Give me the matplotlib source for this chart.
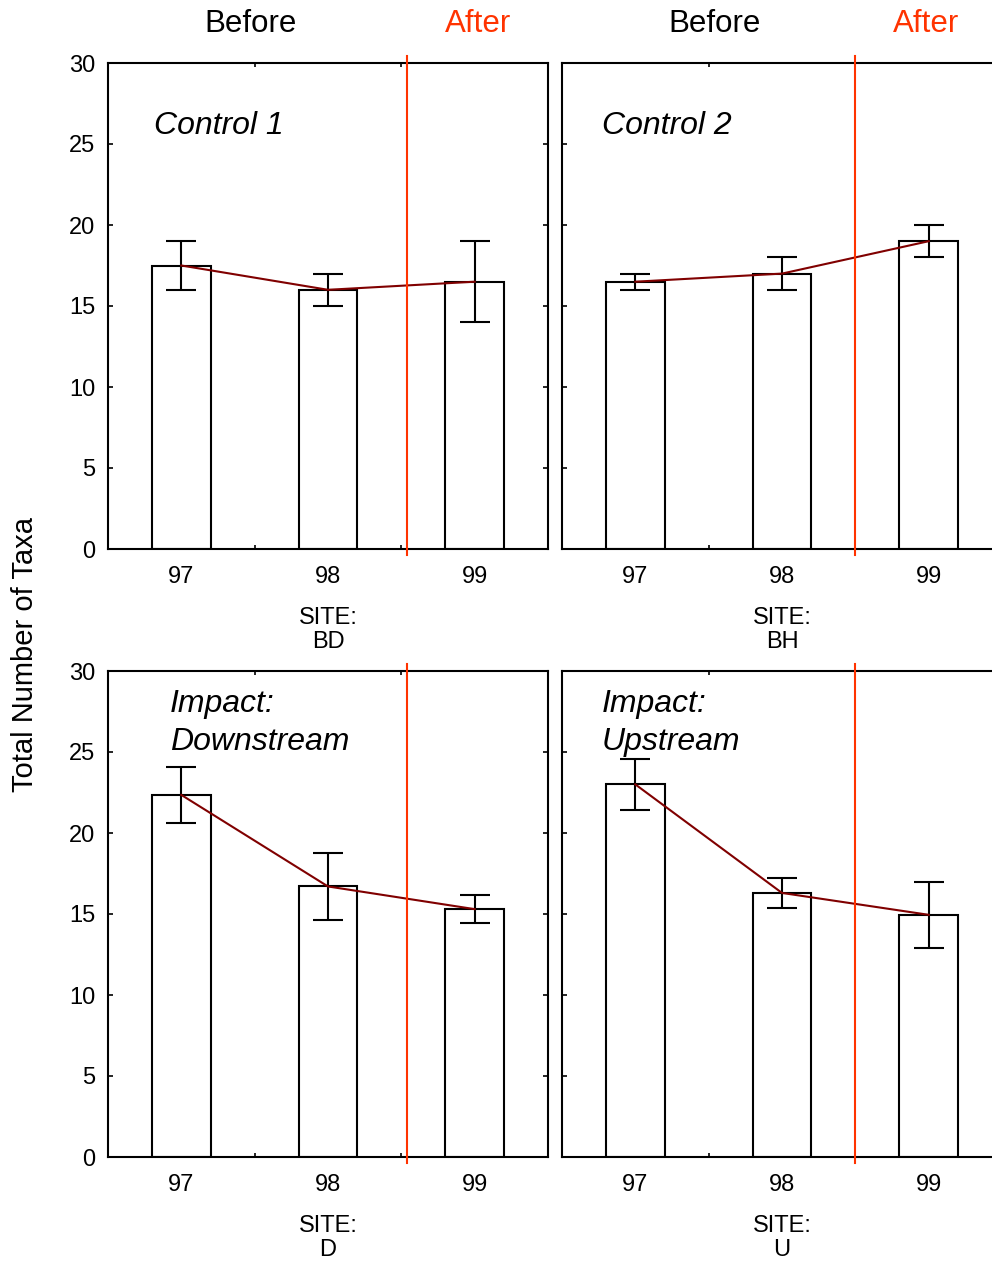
import matplotlib.pyplot as plt
from matplotlib.transforms import blended_transform_factory

plt.rcParams['font.family'] = ['Liberation Sans', 'DejaVu Sans']

years = ['97', '98', '99']
sites = ['BD', 'BH', 'D', 'U']
titles = ['Control 1', 'Control 2', 'Impact:\nDownstream', 'Impact:\nUpstream']

means_bd = [17.5, 16.0, 16.5]
err_bd = [1.5, 1.0, 2.5]
means_bh = [16.5, 17.0, 19.0]
err_bh = [0.5, 1.0, 1.0]
means_d = [22.35, 16.7, 15.3]
err_d = [1.72, 2.05, 0.85]
means_u = [23.0, 16.3, 14.95]
err_u = [1.55, 0.92, 2.05]

means = [means_bd, means_bh, means_d, means_u]
errs = [err_bd, err_bh, err_d, err_u]

W, H = 992, 1264
fig = plt.figure(figsize=(W / 100, H / 100), dpi=100)

red = '#ff3300'
dark = '#800000'

# panel boxes in pixels: left, top
boxes = [(108, 63), (562, 63), (108, 671), (562, 671)]
aw, ah = 440, 486
split_x = [1.54, 1.5, 1.54, 1.5]
title_pos = [(0.1045, 0.870), (0.091, 0.870), (0.141, 0.893), (0.091, 0.893)]

for i in range(4):
    l, t = boxes[i]
    ax = fig.add_axes([l / W, (H - t - ah) / H, aw / W, ah / H])
    x = list(range(len(years)))
    ax.bar(x, means[i], width=0.4, color='white', edgecolor='black', linewidth=1.5, zorder=2)
    ax.errorbar(x, means[i], yerr=errs[i], fmt='none', ecolor='black', elinewidth=1.5,
                capsize=10.5, capthick=1.5, zorder=3)
    ax.plot(x, means[i], color=dark, lw=1.5, zorder=4)
    ax.axvline(split_x[i], ymin=-0.012, ymax=1.014, color=red, lw=1.5, clip_on=False, zorder=5)

    ax.set_xlim(-0.5, 2.5)
    ax.set_ylim(0, 30)
    ax.set_yticks(range(0, 31, 5))
    ax.set_xticks(x)
    ax.set_xticklabels(years)
    ax.set_xticks([0.5, 1.5], minor=True)
    ax.tick_params(axis='x', which='major', length=0, pad=12, labelsize=17)
    ax.tick_params(axis='x', which='minor', direction='in', top=True, bottom=True, length=3, width=1.2)
    ax.tick_params(axis='y', direction='in', left=True, right=True, length=3.5, width=1.2,
                   labelsize=17, pad=9)
    if i % 2 == 1:
        ax.tick_params(axis='y', labelleft=False)
    for s in ax.spines.values():
        s.set_linewidth(1.5)

    ax.text(title_pos[i][0], title_pos[i][1], titles[i], transform=ax.transAxes,
            fontsize=23, style='italic', ha='left', va='center', linespacing=1.33)
    ax.text(0.5, -0.167, 'SITE:\n' + sites[i], transform=ax.transAxes, fontsize=17,
            ha='center', va='center', linespacing=1.15)

    if i < 2:
        tr = blended_transform_factory(ax.transData, ax.transAxes)
        bx, axx = (0.475, 2.02) if i == 0 else (0.543, 1.98)
        ax.text(bx, 1.080, 'Before', transform=tr, fontsize=22.5, ha='center', va='center')
        ax.text(axx, 1.080, 'After', transform=tr, fontsize=22.5, ha='center', va='center', color=red)

fig.text(25 / W, (H - 654) / H, 'Total Number of Taxa', rotation=90, fontsize=21,
         ha='center', va='center')

fig.savefig('out.png', dpi=100)
